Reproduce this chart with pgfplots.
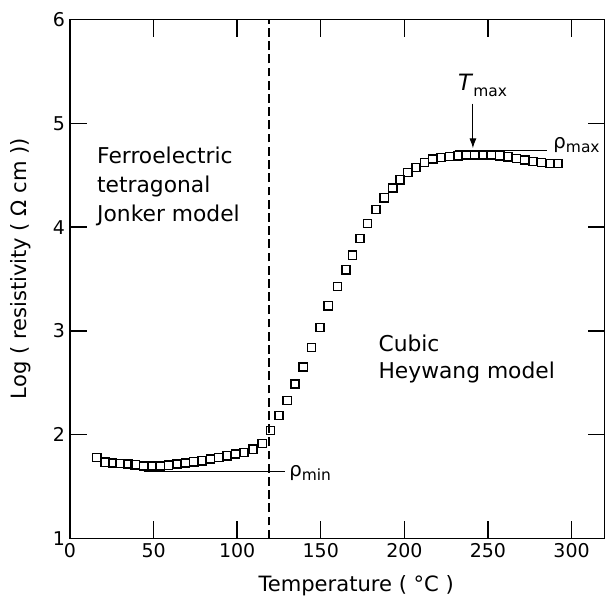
\documentclass[border=0pt]{standalone}
\usepackage{fontspec}
\setmainfont{DejaVu Sans}
\usepackage{pgfplots}
\pgfplotsset{compat=1.18}
\usetikzlibrary{arrows.meta}

\newcommand{\annfont}{\fontsize{15.5}{18}\selectfont}
\newcommand{\subfont}{\fontsize{11}{11}\selectfont}

\begin{document}
\begin{tikzpicture}
\begin{axis}[
  scale only axis,
  width=13.375cm, height=12.975cm,
  xmin=0, xmax=320, ymin=1, ymax=6,
  xtick={0,50,...,300}, ytick={1,2,...,6},
  tick align=inside,
  major tick length=0.43cm,
  axis line style={line width=1pt},
  tick style={line width=1pt, black},
  /pgf/number format/assume math mode=true,
  ticklabel style={font=\fontsize{13.5}{13.5}\selectfont},
  xlabel={Temperature ( °C )},
  ylabel={Log ( resistivity ( Ω cm ))},
  label style={font=\fontsize{15}{15}\selectfont},
  xlabel style={at={(axis description cs:0.535,-0.09)}, anchor=center},
  ylabel style={at={(axis description cs:-0.092,0.52)}, anchor=center},
  clip=false,
]
% boundary between the two phases
\draw[line width=0.8pt, dash pattern=on 0.22cm off 0.11cm]
  (axis cs:119,1) -- (axis cs:119,6);

\addplot[only marks, mark=square, mark size=2.9pt,
  mark options={line width=1.1pt, black, fill=white}] coordinates {
  (16,1.78) (21,1.735) (25.5,1.727) (30,1.724) (34.5,1.717) (39,1.711)
  (44,1.70) (49,1.697) (54,1.70) (59,1.706) (64,1.717) (69,1.727)
  (74,1.74) (79,1.75) (84,1.765) (89,1.78) (94,1.797) (99,1.813)
  (104,1.83) (109.5,1.86) (115,1.915) (120,2.04) (125,2.184) (130,2.329)
  (134.5,2.49) (139.5,2.652) (144.5,2.839) (149.5,3.033) (154.5,3.243)
  (160,3.427) (165,3.589) (169,3.728) (173.5,3.89) (178,4.035)
  (183,4.171) (188,4.283) (193,4.377) (197.5,4.457) (202,4.525)
  (207,4.574) (212,4.622) (217,4.655) (222,4.671) (227,4.68)
  (232,4.687) (237,4.694) (242,4.694) (247,4.694) (252,4.694)
  (257,4.687) (262,4.678) (267,4.661) (272,4.645) (277,4.632)
  (282,4.622) (287,4.612) (292,4.612)
};

% region labels
\node[anchor=base west, inner sep=0] at (axis cs:16.1,4.609) {\annfont Ferroelectric};
\node[anchor=base west, inner sep=0] at (axis cs:16.1,4.333) {\annfont tetragonal};
\node[anchor=base west, inner sep=0] at (axis cs:16.1,4.057) {\annfont Jonker model};
\node[anchor=base west, inner sep=0] at (axis cs:184.4,2.80) {\annfont Cubic};
\node[anchor=base west, inner sep=0] at (axis cs:184.4,2.539) {\annfont Heywang model};

% rho min
\draw[line width=0.7pt] (axis cs:44,1.645) -- (axis cs:128.5,1.645);
\node[anchor=base west, inner sep=0] at (axis cs:131,1.597)
  {\fontsize{14}{14}\selectfont ρ\raisebox{-3pt}{\subfont min}};

% rho max
\draw[line width=0.7pt] (axis cs:230,4.74) -- (axis cs:285.3,4.74);
\node[anchor=base west, inner sep=0] at (axis cs:289,4.755)
  {\fontsize{14}{14}\selectfont ρ\raisebox{-3pt}{\subfont max}};

% T max
\draw[line width=0.7pt, -{Latex[length=7pt, width=5pt]}]
  (axis cs:241,5.19) -- (axis cs:241,4.76);
\node[anchor=base west, inner sep=0] at (axis cs:232,5.317)
  {\fontsize{16}{16}\selectfont\textit{T}\raisebox{-4.5pt}{\subfont max}};
\end{axis}
\pgfresetboundingbox
\path (current axis.south west) ++(-1.75cm,-1.5375cm) rectangle ++(15.125cm,15cm);
\end{tikzpicture}
\end{document}
